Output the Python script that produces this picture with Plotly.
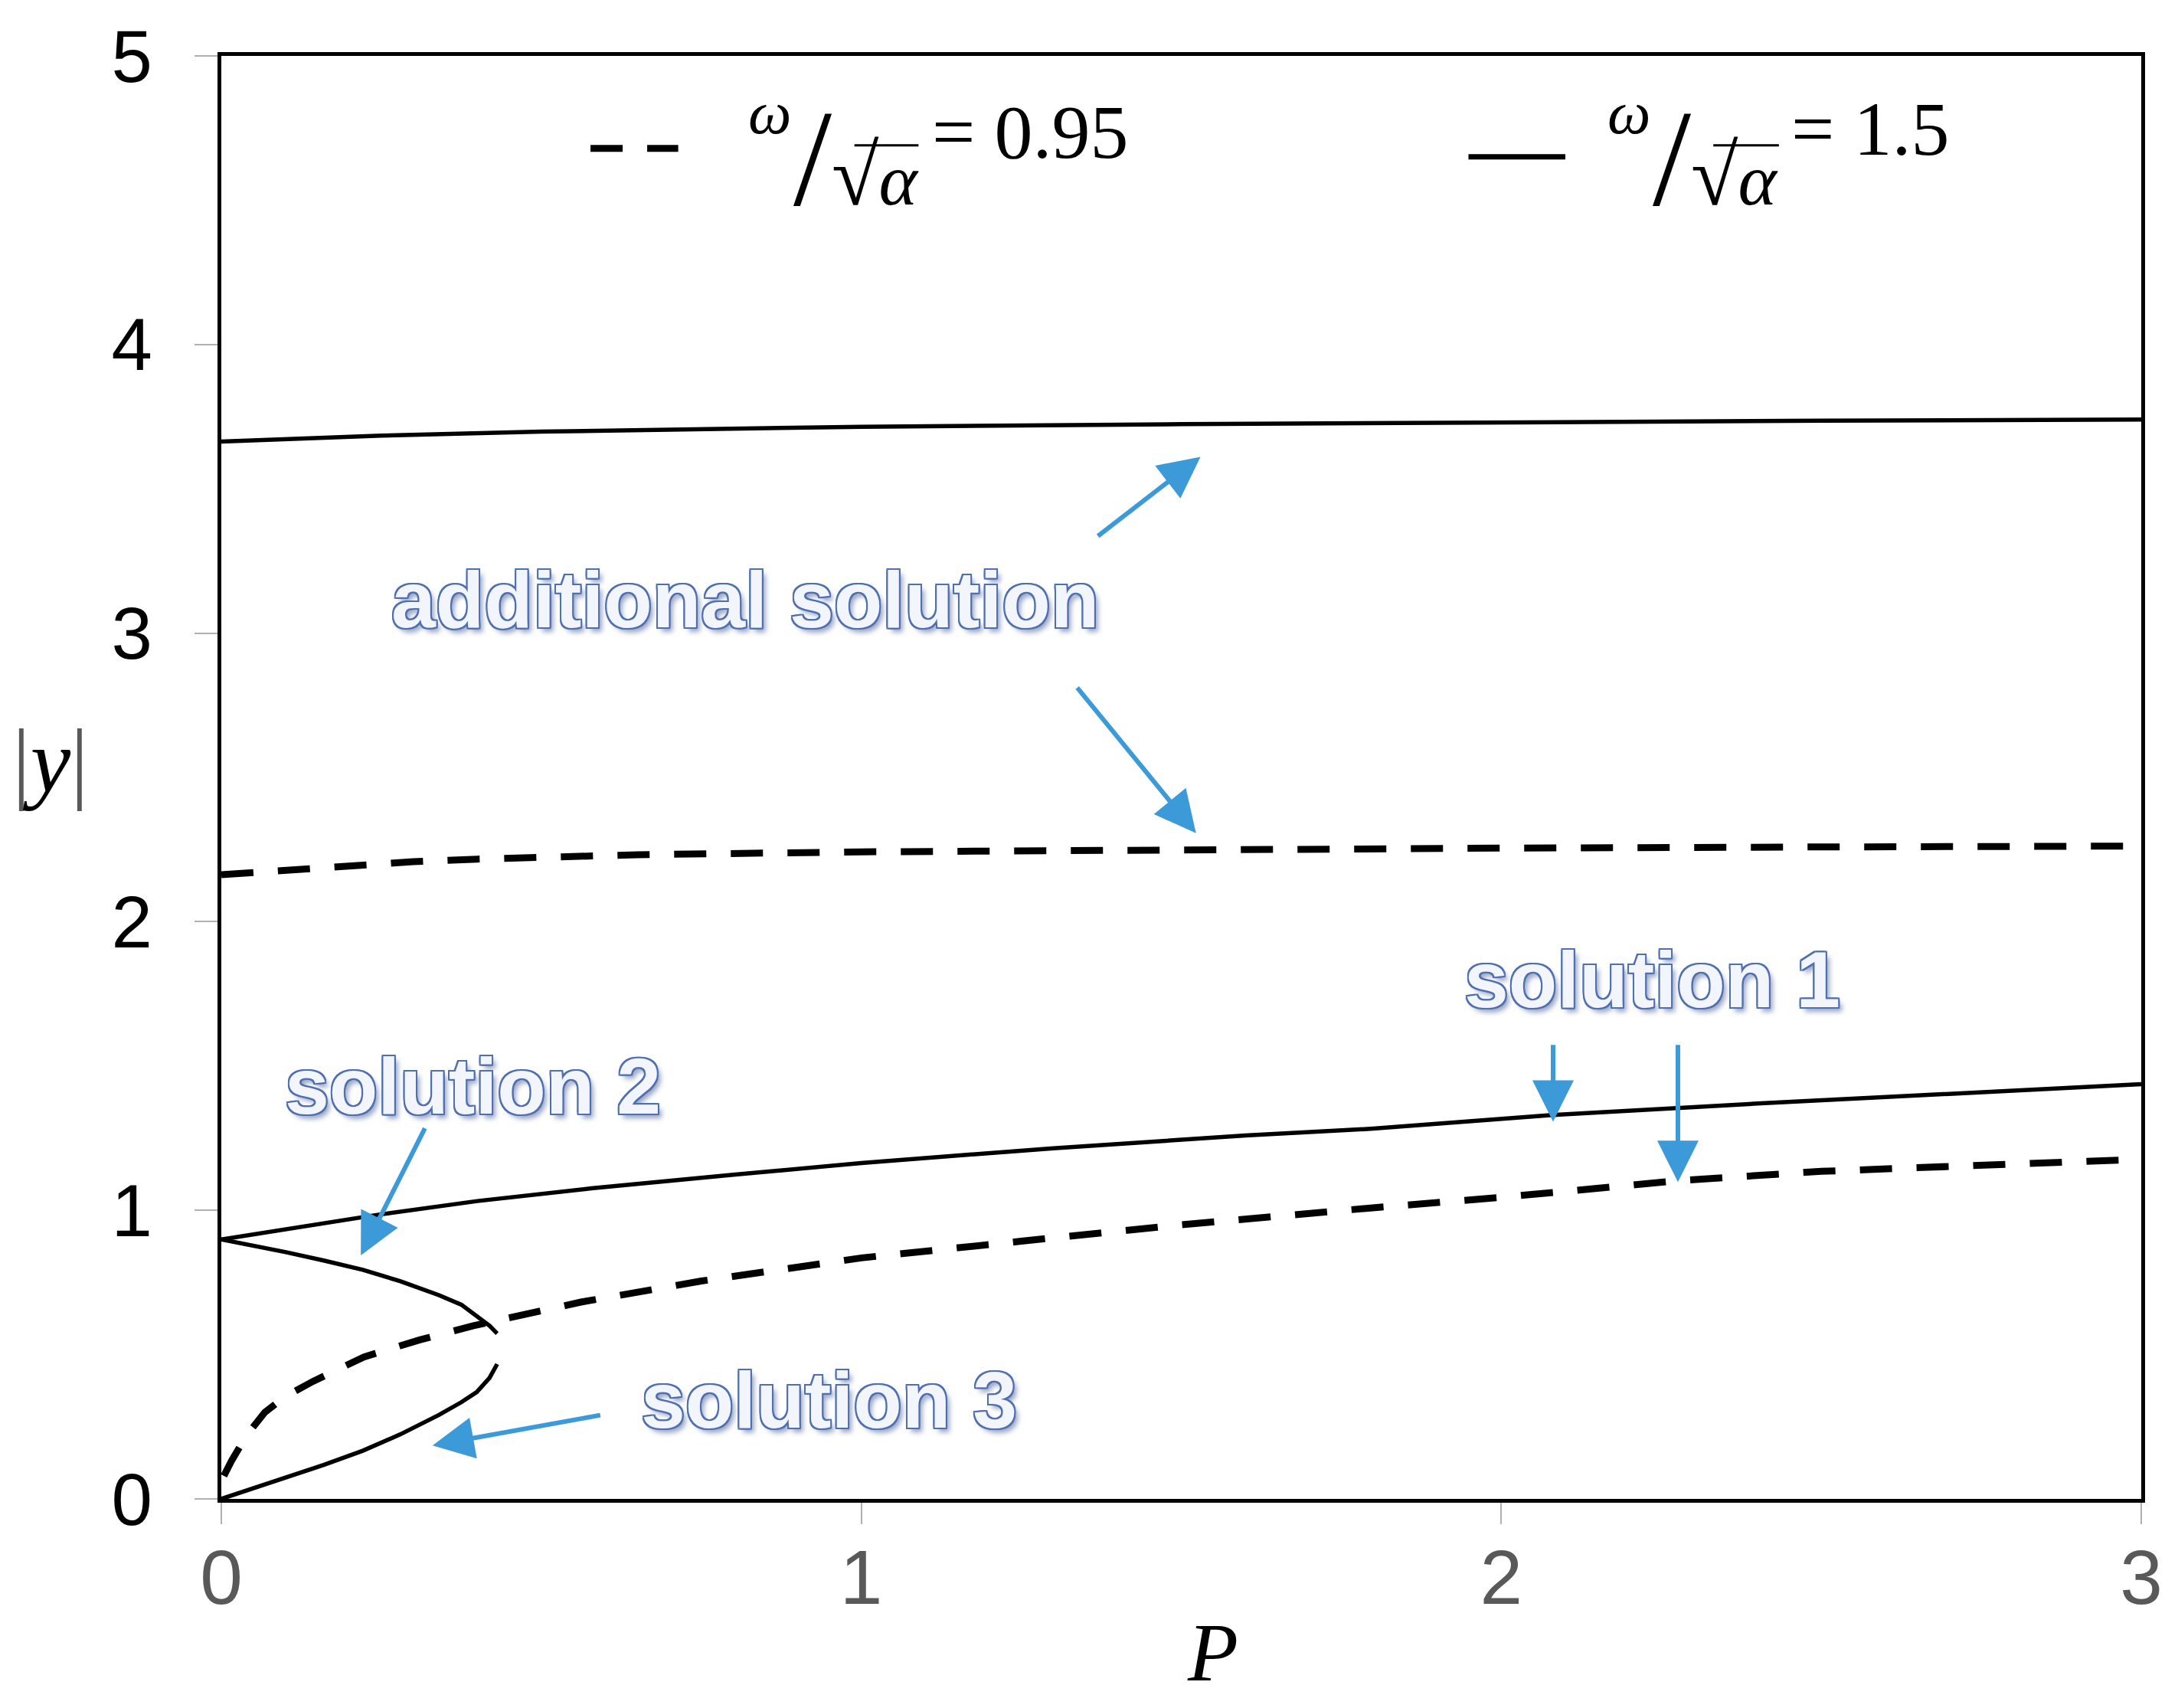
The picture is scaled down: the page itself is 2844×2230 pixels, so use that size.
import plotly.graph_objects as go

# ---------------- data ----------------
# omega/sqrt(alpha) = 1.5  (solid)
P_add_15 = [0, 0.25, 0.5, 0.75, 1.0, 1.5, 2.0, 2.5, 3.0]
Y_add_15 = [3.664, 3.684, 3.698, 3.708, 3.715, 3.724, 3.731, 3.736, 3.740]

P_sol1_15 = [0, 0.1, 0.24, 0.4, 0.578, 0.8, 1.0, 1.3, 1.6, 1.8, 2.08, 2.4, 2.7, 3.0]
Y_sol1_15 = [0.899, 0.935, 0.983, 1.032, 1.076, 1.123, 1.164, 1.215, 1.259, 1.283, 1.330, 1.370, 1.405, 1.437]

P_sol2_15 = [0, 0.05, 0.101, 0.16, 0.221, 0.28, 0.34, 0.375, 0.399, 0.419, 0.431]
Y_sol2_15 = [0.899, 0.878, 0.855, 0.826, 0.794, 0.754, 0.706, 0.673, 0.635, 0.600, 0.573]

P_sol3_15 = [0, 0.05, 0.101, 0.16, 0.221, 0.28, 0.34, 0.375, 0.399, 0.419, 0.431]
Y_sol3_15 = [0, 0.037, 0.075, 0.118, 0.167, 0.224, 0.291, 0.335, 0.370, 0.419, 0.467]

# omega/sqrt(alpha) = 0.95  (dashed)
P_add_095 = [0, 0.1, 0.2, 0.3, 0.4, 0.5, 0.65, 1.0, 1.5, 2.0, 2.5, 3.0]
Y_add_095 = [2.163, 2.180, 2.196, 2.208, 2.217, 2.224, 2.232, 2.242, 2.250, 2.255, 2.259, 2.262]

P_sol1_095 = [0.004, 0.016, 0.04, 0.068, 0.1, 0.143, 0.223, 0.31, 0.394, 0.481, 0.562,
              0.75, 1.0, 1.25, 1.5, 1.806, 2.0, 2.278, 2.5, 3.0]
Y_sol1_095 = [0.080, 0.132, 0.222, 0.300, 0.355, 0.407, 0.492, 0.551, 0.600, 0.644, 0.682,
              0.755, 0.835, 0.893, 0.950, 1.010, 1.045, 1.103, 1.135, 1.177]

x_ticks = [0, 1, 2, 3]
y_ticks = [0, 1, 2, 3, 4, 5]

# labels: (text, P, |y|)
labels = [("additional solution", 0.818, 3.115),
          ("solution 1", 2.236, 1.80),
          ("solution 2", 0.393, 1.43),
          ("solution 3", 0.950, 0.343)]
# arrows: (tail P, tail |y|, head P, head |y|)
arrows = [(1.368, 3.333, 1.530, 3.611),
          (1.336, 2.815, 1.523, 2.307),
          (2.081, 1.577, 2.081, 1.307),
          (2.276, 1.577, 2.276, 1.098),
          (0.319, 1.288, 0.218, 0.844),
          (0.594, 0.291, 0.330, 0.185)]

legend_values = ["0.95", "1.5"]

# ---------------- layout geometry (page pixels; page body has an 8px margin) ----------------
OFF = 8
W, H = 2844 - 2 * OFF, 2230 - 2 * OFF
L, R, T, B = 289, 2806, 70, 1957   # plot area in page pixels


def px(X):
    return (X - L) / (R - L)


def py(Y):
    return (B - Y) / (B - T)


solid = dict(color="black", width=5.5)
dashed = dict(color="black", width=9, dash="42px,32px")

fig = go.Figure()
for xs, ys, ln in [(P_add_15, Y_add_15, solid), (P_sol1_15, Y_sol1_15, solid),
                   (P_sol2_15, Y_sol2_15, solid), (P_sol3_15, Y_sol3_15, solid),
                   (P_add_095, Y_add_095, dashed), (P_sol1_095, Y_sol1_095, dashed)]:
    fig.add_trace(go.Scatter(x=xs, y=ys, mode="lines", line=ln, showlegend=False,
                             hoverinfo="skip"))

ann = []
outline = "#4f6fb0"
shadow = ", ".join([f"{outline} {dx}px {dy}px 0px" for dx, dy in
                    [(2, 0), (-2, 0), (0, 2), (0, -2), (2, 2), (-2, -2), (2, -2), (-2, 2)]]
                   + ["rgba(70,95,150,0.55) 5px 6px 6px"])
for txt, xx, yy in labels:
    ann.append(dict(text=txt, x=xx, y=yy, xref="x", yref="y", showarrow=False,
                    xanchor="center", yanchor="middle",
                    font=dict(family="Liberation Sans, Arial", size=104,
                              color="#f2f6fc", weight="bold", shadow=shadow)))

for tx, ty, hx, hy in arrows:
    ann.append(dict(text="", x=hx, y=hy, ax=tx, ay=ty, xref="x", yref="y",
                    axref="x", ayref="y", showarrow=True, arrowhead=2, arrowsize=1.8,
                    arrowwidth=6, arrowcolor="#3c9ad8", standoff=0, startstandoff=0))


def ptext(text, X, Y, size, xanchor="center", yanchor="middle", italic=False):
    ann.append(dict(text=text, x=px(X), y=py(Y), xref="paper", yref="paper",
                    showarrow=False, xanchor=xanchor, yanchor=yanchor,
                    font=dict(family="Liberation Serif", size=size, color="black",
                              style="italic" if italic else "normal")))


# axis titles
ptext("<span style='color:#595959'>|</span><i>y</i><span style='color:#595959'>|</span>",
      65, 993, 118)
ptext("<i>P</i>", 1589, 2158, 108)

# legend texts:  omega / sqrt(alpha) = value
frac_rest = ("/<span style='font-size:112px'>√</span>"
             "<span style='font-size:96px;font-style:italic'>α</span>")
for wx, sx, (ex, ey), val in [(1008, 1037, (1349, 170), legend_values[0]),
                              (2134, 2163, (2451, 166), legend_values[1])]:
    ptext("ω", wx, 144, 80, italic=True)
    ptext(frac_rest, sx, 305, 180, xanchor="left", yanchor="bottom")
    ptext("= " + val, ex, ey, 100)

shapes = [
    dict(type="line", xref="paper", yref="paper", x0=px(773), x1=px(888),
         y0=py(191), y1=py(191), line=dict(color="black", width=9, dash="42px,32px")),
    dict(type="line", xref="paper", yref="paper", x0=px(1924), x1=px(2051),
         y0=py(202), y1=py(202), line=dict(color="black", width=7)),
    dict(type="line", xref="paper", yref="paper", x0=px(1119), x1=px(1203),
         y0=py(187), y1=py(187), line=dict(color="black", width=3)),
    dict(type="line", xref="paper", yref="paper", x0=px(2245), x1=px(2331),
         y0=py(187), y1=py(187), line=dict(color="black", width=3)),
]

fig.update_layout(
    width=W, height=H,
    margin=dict(l=L - OFF, r=W - (R - OFF), t=T - OFF, b=H - (B - OFF), pad=0),
    paper_bgcolor="white", plot_bgcolor="white",
    annotations=ann, shapes=shapes, showlegend=False,
    xaxis=dict(range=[0, 3], tickvals=x_ticks, ticktext=[str(v) for v in x_ticks],
               ticks="outside", ticklen=28, tickwidth=2, tickcolor="#b0b0b0",
               showline=True, linecolor="black", linewidth=5, mirror=True,
               showgrid=False, zeroline=False, ticklabelstandoff=-16,
               tickfont=dict(family="Liberation Sans, Arial", size=100, color="#595959")),
    yaxis=dict(range=[0, 5], tickvals=y_ticks, ticktext=[str(v) for v in y_ticks],
               ticks="outside", ticklen=30, tickwidth=2, tickcolor="#b0b0b0",
               showline=True, linecolor="black", linewidth=5, mirror=True,
               showgrid=False, zeroline=False, ticklabelstandoff=36,
               tickfont=dict(family="Liberation Sans, Arial", size=96, color="black")),
)

fig.write_html("out.html")
